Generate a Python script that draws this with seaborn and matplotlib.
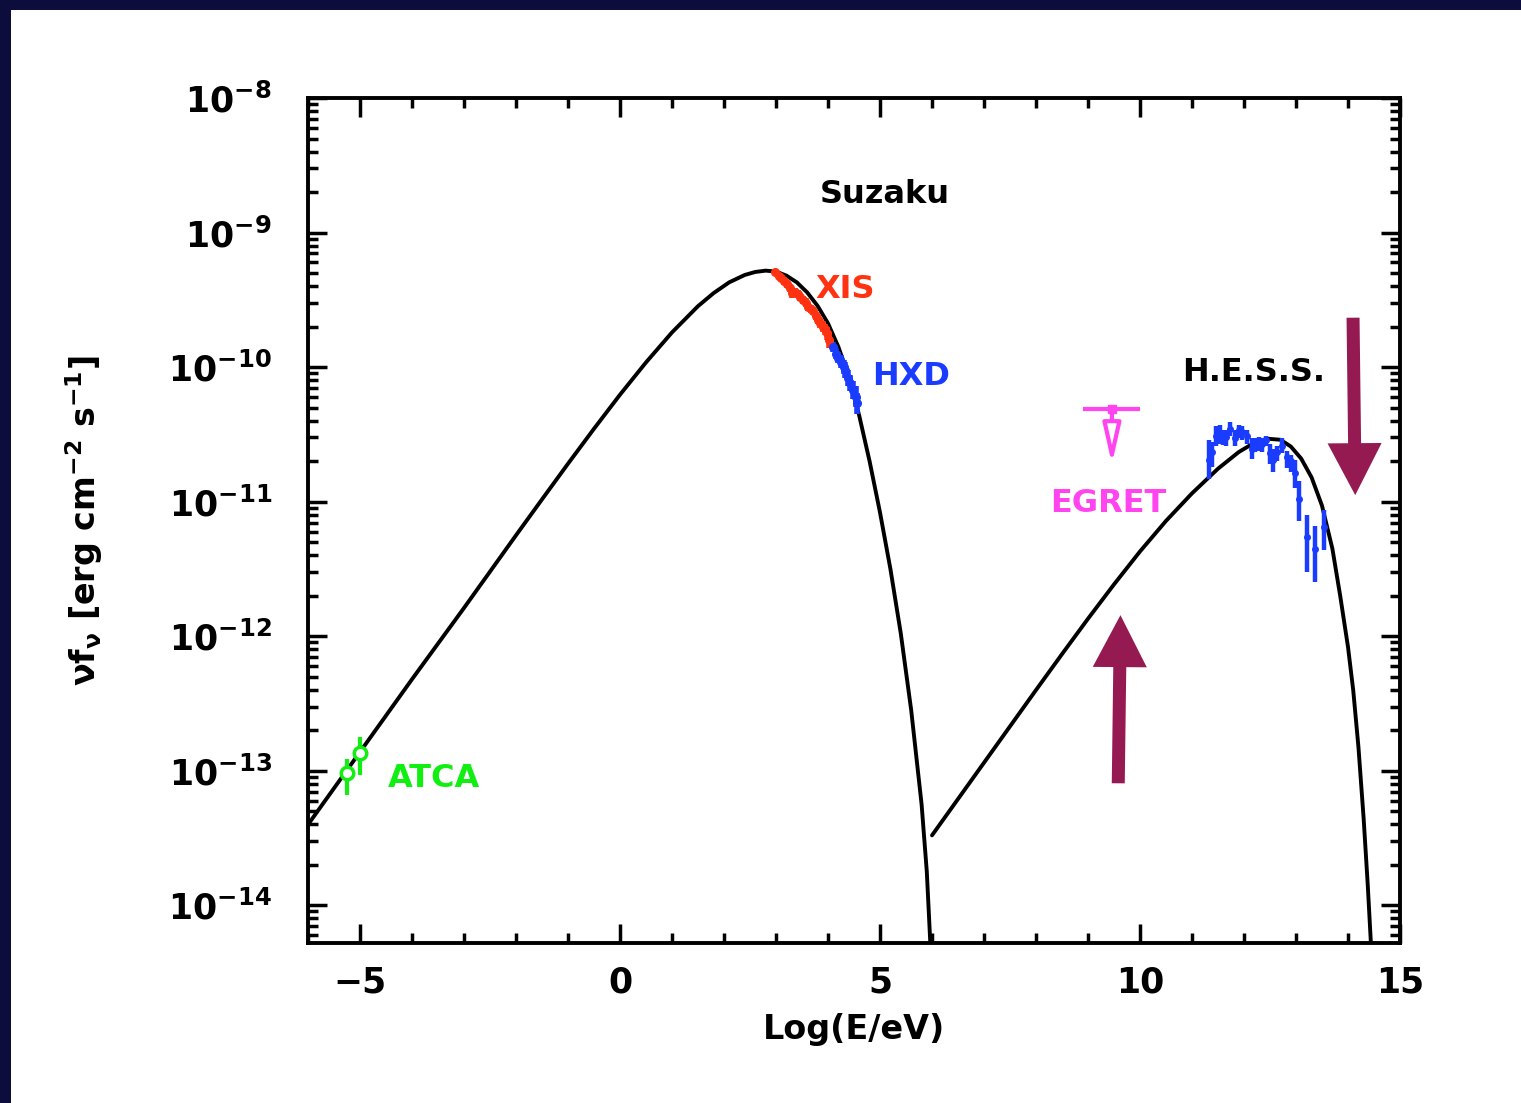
import numpy as np
import matplotlib
matplotlib.use("Agg")
import matplotlib.pyplot as plt
import seaborn as sns
from matplotlib.patches import Rectangle, FancyArrow
from matplotlib.ticker import MultipleLocator, FuncFormatter, NullFormatter, FixedLocator

# ---------------- data (log10 E/eV, log10 nuFnu) ----------------
sync_x = [-6.0, -5.0, -4.0, -3.0, -2.0, -1.5, -1.0, -0.5, 0.0, 0.5, 1.0, 1.5, 1.8, 2.1,
          2.4, 2.6, 2.8, 3.0, 3.2, 3.4, 3.6, 3.8, 4.0, 4.2, 4.4, 4.6, 4.8, 5.0, 5.2,
          5.4, 5.6, 5.8, 5.9, 5.97]
sync_logy = [-13.40, -12.86, -12.32, -11.79, -11.25, -10.983, -10.718, -10.458, -10.205,
             -9.965, -9.742, -9.547, -9.45, -9.37, -9.315, -9.293, -9.283, -9.29, -9.32,
             -9.37, -9.445, -9.545, -9.675, -9.85, -10.07, -10.36, -10.70, -11.08, -11.50,
             -11.98, -12.55, -13.25, -13.75, -14.30]

ic_x = [6.0, 7.0, 8.0, 8.5, 9.0, 9.5, 10.0, 10.5, 11.0, 11.5, 11.9, 12.2, 12.45, 12.7,
        12.9, 13.1, 13.3, 13.5, 13.7, 13.85, 14.0, 14.1, 14.2, 14.3, 14.38, 14.45]
ic_logy = [-13.48, -12.94, -12.40, -12.133, -11.87, -11.615, -11.37, -11.143, -10.938,
           -10.755, -10.631, -10.562, -10.532, -10.54, -10.59, -10.68, -10.82, -11.03,
           -11.35, -11.70, -12.08, -12.40, -12.82, -13.35, -13.85, -14.35]

atca_x = [-5.25, -5.0]
atca_logy = [-13.02, -12.87]
atca_lo = [-13.18, -13.03]
atca_hi = [-12.91, -12.75]

xis_x = [2.98, 3.05, 3.10, 3.15, 3.21, 3.26, 3.31, 3.36, 3.42, 3.47, 3.52, 3.57, 3.62,
         3.67, 3.71, 3.76, 3.81, 3.85, 3.90, 3.94, 3.98, 4.01]
xis_logy = [-9.29, -9.32, -9.34, -9.36, -9.38, -9.41, -9.45, -9.44, -9.46, -9.48, -9.50,
            -9.52, -9.55, -9.57, -9.58, -9.62, -9.65, -9.67, -9.70, -9.72, -9.75, -9.80]
xis_err = [0.02, 0.02, 0.02, 0.03, 0.03, 0.03, 0.04, 0.03, 0.03, 0.03, 0.03, 0.03, 0.03,
           0.03, 0.03, 0.03, 0.03, 0.04, 0.04, 0.04, 0.05, 0.06]

hxd_x = [4.10, 4.15, 4.20, 4.25, 4.30, 4.33, 4.38, 4.43, 4.48, 4.53, 4.56]
hxd_logy = [-9.85, -9.90, -9.93, -9.96, -10.00, -10.02, -10.08, -10.12, -10.17, -10.22, -10.27]
hxd_err = [0.04, 0.04, 0.04, 0.05, 0.05, 0.06, 0.06, 0.06, 0.07, 0.08, 0.08]

hess_x = [11.33, 11.38, 11.47, 11.54, 11.59, 11.65, 11.74, 11.83, 11.91, 11.97, 12.05,
          12.15, 12.21, 12.28, 12.34, 12.42, 12.50, 12.56, 12.64, 12.74, 12.82, 12.90,
          12.98, 13.06, 13.21, 13.37, 13.53]
hess_logy = [-10.69, -10.63, -10.51, -10.49, -10.53, -10.52, -10.46, -10.53, -10.47, -10.48,
             -10.51, -10.61, -10.58, -10.57, -10.57, -10.54, -10.64, -10.69, -10.63, -10.59,
             -10.67, -10.70, -10.79, -10.98, -11.26, -11.35, -11.19]
hess_lo = [-10.83, -10.74, -10.59, -10.57, -10.58, -10.59, -10.51, -10.59, -10.53, -10.54,
           -10.57, -10.68, -10.63, -10.62, -10.63, -10.59, -10.72, -10.78, -10.70, -10.64,
           -10.75, -10.78, -10.90, -11.14, -11.52, -11.60, -11.36]
hess_hi = [-10.54, -10.56, -10.44, -10.43, -10.47, -10.47, -10.41, -10.47, -10.43, -10.44,
           -10.47, -10.53, -10.53, -10.52, -10.53, -10.51, -10.57, -10.61, -10.59, -10.53,
           -10.62, -10.65, -10.69, -10.85, -11.10, -11.18, -11.06]

egret_x = 9.46
egret_logy = -10.31
egret_xlo, egret_xhi = 8.90, 10.00
egret_arrow_logy = -10.72

y_decades = [-14, -13, -12, -11, -10, -9, -8]

# ---------------- style ----------------
sns.set_style("ticks")
plt.rcParams['font.family'] = ['DejaVu Sans']
plt.rcParams['font.weight'] = 'bold'
plt.rcParams['mathtext.default'] = 'bf'
plt.rcParams['axes.unicode_minus'] = True
plt.rcParams['text.color'] = 'black'
plt.rcParams['axes.labelcolor'] = 'black'
plt.rcParams['xtick.color'] = 'black'
plt.rcParams['ytick.color'] = 'black'

C_GREEN = '#11ee11'
C_RED = '#ff3311'
C_BLUE = '#1a3cff'
C_MAG = '#ff44f0'
C_MAROON = '#961a52'

fig = plt.figure(figsize=(15.21, 11.03), dpi=100, facecolor='#0c0d3d')
fig.patches.append(Rectangle((11 / 1521, 0), 1.0, (1103 - 10) / 1103,
                             transform=fig.transFigure, facecolor='white',
                             edgecolor='none', zorder=-10))

ax = fig.add_axes([308 / 1521, 1 - 943 / 1103, 1092 / 1521, 845 / 1103])
ax.set_zorder(1)
ax.set_facecolor('white')

p = lambda a: 10 ** np.asarray(a, dtype=float)

sns.lineplot(x=sync_x, y=p(sync_logy), ax=ax, color='black', lw=2.8, sort=False,
             estimator=None, zorder=3)
sns.lineplot(x=ic_x, y=p(ic_logy), ax=ax, color='black', lw=2.8, sort=False,
             estimator=None, zorder=3)

# ATCA
ay = p(atca_logy)
ax.errorbar(atca_x, ay, yerr=[ay - p(atca_lo), p(atca_hi) - ay], fmt='o', ms=9,
            mfc='white', mec=C_GREEN, mew=2.5, color=C_GREEN, elinewidth=3,
            capsize=0, zorder=5)

# XIS
xy_ = p(xis_logy)
ax.errorbar(xis_x, xy_, yerr=[xy_ - p(np.array(xis_logy) - np.array(xis_err)),
                              p(np.array(xis_logy) + np.array(xis_err)) - xy_],
            fmt='o', ms=5.5, color=C_RED, elinewidth=4, capsize=0, zorder=4)
# HXD
hy = p(hxd_logy)
ax.errorbar(hxd_x, hy, yerr=[hy - p(np.array(hxd_logy) - np.array(hxd_err)),
                             p(np.array(hxd_logy) + np.array(hxd_err)) - hy],
            fmt='o', ms=5.5, color=C_BLUE, elinewidth=4, capsize=0, zorder=4)
# HESS
sy = p(hess_logy)
ax.errorbar(hess_x, sy, yerr=[sy - p(hess_lo), p(hess_hi) - sy], fmt='o', ms=4,
            color=C_BLUE, elinewidth=3.2, capsize=0, zorder=4)

# EGRET upper limit
ey = 10 ** egret_logy
ax.errorbar([egret_x], [ey], xerr=[[egret_x - egret_xlo], [egret_xhi - egret_x]],
            fmt='s', ms=6, color=C_MAG, elinewidth=3, capsize=0, zorder=4)
ax.annotate('', xy=(egret_x, 10 ** egret_arrow_logy), xytext=(egret_x, ey),
            arrowprops=dict(arrowstyle='-|>,head_length=1.6,head_width=0.36',
                            ec=C_MAG, fc='white', lw=3, mutation_scale=15,
                            shrinkA=0, shrinkB=0), zorder=4)

# axes
ax.set_xlim(-6, 15)
ax.set_yscale('log')
ax.set_ylim(10 ** -14.28, 1e-8)
ax.xaxis.set_major_locator(MultipleLocator(5))
ax.xaxis.set_minor_locator(MultipleLocator(1))
ax.yaxis.set_major_locator(FixedLocator(p(y_decades)))
minor_vals = [m * 10.0 ** d for d in range(-15, -8) for m in range(2, 10)
              if 10 ** -14.28 <= m * 10.0 ** d <= 1e-8]
ax.yaxis.set_minor_locator(FixedLocator(minor_vals))
ax.yaxis.set_major_formatter(FuncFormatter(lambda v, pos: r'$\mathbf{10^{%d}}$' % round(np.log10(v))))
ax.yaxis.set_minor_formatter(NullFormatter())
ax.tick_params(which='both', direction='in', top=True, right=True, width=2.5,
               color='black', labelcolor='black')
ax.tick_params(which='major', length=14, labelsize=25)
ax.tick_params(which='minor', length=7)
ax.tick_params(axis='x', which='major', pad=16)
ax.tick_params(axis='y', which='major', pad=26)
for lab in ax.get_xticklabels() + ax.get_yticklabels():
    lab.set_fontweight('bold')
for s in ax.spines.values():
    s.set_linewidth(2.8)
    s.set_color('black')

ax.set_xlabel('Log(E/eV)', fontsize=24, fontweight='bold', color='black')
ax.set_ylabel(r'$\nu f_\nu$ [erg cm$^{-2}$ s$^{-1}$]', fontsize=24, fontweight='bold',
              color='black')
ax.xaxis.set_label_coords(0.5, -0.083)
ax.yaxis.set_label_coords(-0.186, 0.5)

# labels
kw = dict(fontsize=23, fontweight='bold', va='center')
ax.text(5.10, 10 ** -8.72, 'Suzaku', color='black', ha='center', **kw)
ax.text(3.75, 10 ** -9.42, 'XIS', color=C_RED, ha='left', **kw)
ax.text(4.85, 10 ** -10.07, 'HXD', color=C_BLUE, ha='left', **kw)
ax.text(12.19, 10 ** -10.04, 'H.E.S.S.', color='black', ha='center', **kw)
ax.text(9.38, 10 ** -11.01, 'EGRET', color=C_MAG, ha='center', **kw)
ax.text(-4.46, 10 ** -13.06, 'ATCA', color=C_GREEN, ha='left', **kw)

# big maroon arrows (axes fraction)
ax.add_patch(FancyArrow(0.742, 0.189, 0.002, 0.199, width=0.0119, head_width=0.0495,
                        head_length=0.0615, length_includes_head=True,
                        transform=ax.transAxes, color=C_MAROON, zorder=6, lw=0))
ax.add_patch(FancyArrow(0.957, 0.740, 0.002, -0.210, width=0.0119, head_width=0.0495,
                        head_length=0.0615, length_includes_head=True,
                        transform=ax.transAxes, color=C_MAROON, zorder=6, lw=0))

fig.savefig('out.png', dpi=100, facecolor=fig.get_facecolor())
